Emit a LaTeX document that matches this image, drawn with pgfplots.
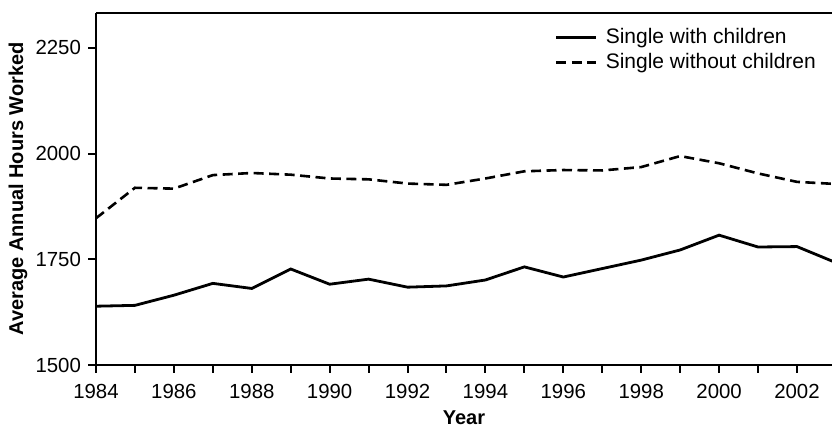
\documentclass[border=0pt]{standalone}
\usepackage{pgfplots}
\pgfplotsset{compat=1.18}
\usepackage{fontspec}
\setmainfont{Liberation Sans}
\begin{document}
\begin{tikzpicture}
\begin{axis}[
  name=ax,
  scale only axis,
  width=368pt, height=176.15pt,
  xmin=1984, xmax=2002.9,
  ymin=1500, ymax=2333,
  axis lines=left,
  axis line style={-, line width=1pt},
  xtick={1984,1986,...,2002},
  minor xtick={1985,1987,...,2001},
  ytick={1500,1750,2000,2250},
  tick align=outside,
  major tick length=4pt, minor tick length=4pt,
  every tick/.append style={black, line width=1pt},
  every minor tick/.append style={black, line width=1pt},
  tick label style={font=\fontsize{10.2}{12}\selectfont},
  xticklabel style={yshift=-2.3pt},
  /pgf/number format/assume math mode=true,
  /pgf/number format/1000 sep={},
  xlabel={\bfseries Year},
  ylabel={\bfseries Average Annual Hours Worked},
  every axis x label/.style={at={(axis description cs:0.5,-0.1675)}, anchor=base,
    font=\fontsize{10}{12}\selectfont\bfseries},
  every axis y label/.style={at={(axis description cs:-0.106,0.5)}, anchor=center, rotate=90,
    font=\fontsize{10}{12}\selectfont\bfseries},
  legend style={at={(axis description cs:0.6236,0.956)}, anchor=north west, draw=none, fill=none,
    inner sep=0pt, outer sep=0pt, nodes={inner sep=0pt}, column sep=4pt, row sep=3.6pt,
    font=\fontsize{10.5}{12}\selectfont},
  legend cell align=left,
  legend image code/.code={\draw[#1] (0pt,0pt) -- (20pt,0pt);},
]
\addplot[black, line width=1.4pt] coordinates {
(1984,1639) (1985,1641) (1986,1665) (1987,1693) (1988,1681) (1989,1727)
(1990,1691) (1991,1703) (1992,1684) (1993,1687) (1994,1701) (1995,1732)
(1996,1708) (1997,1728) (1998,1748) (1999,1772) (2000,1807) (2001,1779)
(2002,1780) (2003,1742)};
\addlegendentry{Single with children}
\addplot[black, line width=1.3pt, dash pattern=on 5pt off 2.75pt] coordinates {
(1984,1847) (1985,1919) (1986,1917) (1987,1949) (1988,1954) (1989,1950)
(1990,1941) (1991,1939) (1992,1929) (1993,1926) (1994,1941) (1995,1958)
(1996,1961) (1997,1960) (1998,1968) (1999,1994) (2000,1977) (2001,1953)
(2002,1933) (2003,1928)};
\addlegendentry{Single without children}
\end{axis}
\draw[line width=1pt] (ax.north west) -- (ax.north east);
\pgfresetboundingbox
\path ([shift={(-48pt,-30.5pt)}]ax.south west) rectangle ([shift={(0pt,6.35pt)}]ax.north east);
\end{tikzpicture}
\end{document}
